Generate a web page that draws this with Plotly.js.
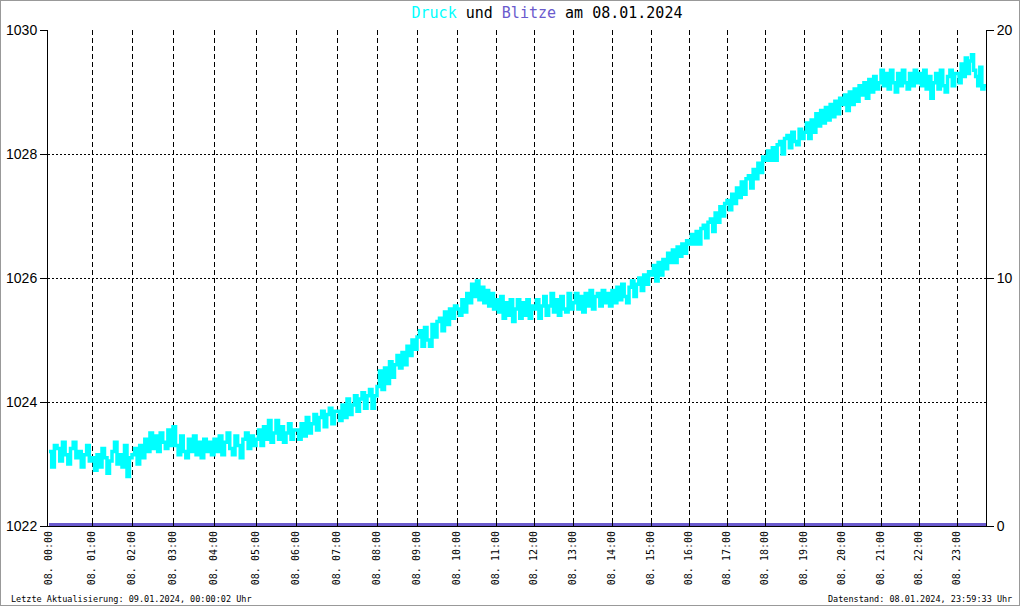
<!DOCTYPE html>
<html><head><meta charset="utf-8">
<script src="https://cdn.plot.ly/plotly-3.0.1.min.js"></script>
<style>
html,body{margin:0;padding:0;background:#fff}
#wrap{position:relative;width:1020px;height:606px}
#chart{width:1020px;height:606px}
#frame{position:absolute;left:0;top:0;width:1020px;height:606px;box-sizing:border-box;border:1px solid #999;pointer-events:none}
</style>
</head><body><div id="wrap"><div id="chart"></div><div id="frame"></div></div>
<script>
// sample index where each hour starts (x axis is sample-indexed)
const hourSamples = [0,43,83,124,165,207,247,288,328,368,408,447,485,524,563,602,640,678,716,755,793,832,870,908];
const totalSamples = 937;
const hourLabels = ['08. 00:00','08. 01:00','08. 02:00','08. 03:00','08. 04:00','08. 05:00','08. 06:00','08. 07:00','08. 08:00','08. 09:00','08. 10:00','08. 11:00','08. 12:00','08. 13:00','08. 14:00','08. 15:00','08. 16:00','08. 17:00','08. 18:00','08. 19:00','08. 20:00','08. 21:00','08. 22:00','08. 23:00'];

// Luftdruck (hPa), readings per hour
const druckByHour = [
 [1023.2,1022.95,1023.3,1023.25,1023.05,1023.35,1023.15,1023.0,1023.25,1023.35,1023.1,1023.2,1022.95,1023.15,1023.3,1023.05],
 [1023.1,1022.9,1023.15,1022.95,1023.25,1023.1,1022.85,1023.05,1023.2,1023.35,1023.0,1023.15,1022.95,1023.3,1022.8,1023.1],
 [1023.15,1023.25,1023.0,1023.3,1023.1,1023.4,1023.2,1023.5,1023.25,1023.45,1023.2,1023.5,1023.35,1023.25,1023.55,1023.3],
 [1023.6,1023.3,1023.15,1023.45,1023.2,1023.1,1023.4,1023.2,1023.45,1023.15,1023.35,1023.1,1023.4,1023.2,1023.35,1023.15],
 [1023.4,1023.2,1023.45,1023.15,1023.35,1023.5,1023.25,1023.15,1023.45,1023.3,1023.1,1023.4,1023.5,1023.25,1023.45,1023.3],
 [1023.4,1023.55,1023.3,1023.6,1023.4,1023.7,1023.35,1023.5,1023.7,1023.4,1023.6,1023.35,1023.5,1023.65,1023.4,1023.55],
 [1023.55,1023.4,1023.65,1023.45,1023.75,1023.5,1023.65,1023.8,1023.55,1023.75,1023.85,1023.6,1023.8,1023.9,1023.65,1023.85],
 [1023.85,1023.7,1023.95,1023.75,1024.05,1023.8,1023.95,1024.1,1023.85,1024.05,1024.15,1023.9,1024.1,1024.2,1023.9,1024.1],
 [1024.25,1024.5,1024.2,1024.55,1024.3,1024.65,1024.4,1024.6,1024.75,1024.55,1024.8,1024.6,1024.9,1024.75,1025.0,1024.85],
 [1025.05,1025.15,1024.9,1025.2,1025.0,1024.9,1025.25,1025.05,1025.3,1025.35,1025.15,1025.45,1025.25,1025.5,1025.35,1025.55],
 [1025.5,1025.4,1025.65,1025.45,1025.75,1025.6,1025.9,1025.7,1025.95,1025.65,1025.85,1025.6,1025.8,1025.55,1025.75,1025.5],
 [1025.65,1025.45,1025.7,1025.35,1025.6,1025.4,1025.65,1025.3,1025.5,1025.65,1025.35,1025.6,1025.4,1025.65,1025.35,1025.55],
 [1025.5,1025.65,1025.35,1025.55,1025.7,1025.4,1025.55,1025.75,1025.45,1025.65,1025.4,1025.7,1025.5,1025.45,1025.75,1025.5],
 [1025.6,1025.75,1025.5,1025.7,1025.45,1025.75,1025.55,1025.8,1025.5,1025.7,1025.75,1025.55,1025.8,1025.6,1025.75,1025.55],
 [1025.8,1025.6,1025.85,1025.65,1025.9,1025.7,1025.6,1025.85,1025.95,1025.7,1025.9,1026.0,1025.8,1026.05,1025.9,1026.1],
 [1026.05,1026.2,1025.95,1026.25,1026.05,1026.3,1026.15,1026.4,1026.25,1026.45,1026.25,1026.5,1026.35,1026.55,1026.4,1026.6],
 [1026.55,1026.7,1026.55,1026.75,1026.55,1026.8,1026.85,1026.65,1026.9,1026.95,1026.75,1027.05,1026.9,1027.15,1027.0,1027.2],
 [1027.25,1027.1,1027.35,1027.2,1027.45,1027.3,1027.55,1027.35,1027.6,1027.65,1027.45,1027.75,1027.6,1027.85,1027.7,1027.95],
 [1027.9,1028.05,1027.9,1028.1,1027.9,1028.15,1028.2,1028.0,1028.25,1028.3,1028.1,1028.35,1028.2,1028.15,1028.4,1028.25],
 [1028.35,1028.5,1028.25,1028.55,1028.35,1028.65,1028.45,1028.7,1028.5,1028.75,1028.55,1028.8,1028.6,1028.85,1028.65,1028.9],
 [1028.8,1028.95,1028.7,1029.0,1028.8,1029.05,1028.85,1029.1,1028.95,1029.15,1028.9,1029.2,1029.0,1029.25,1029.05,1029.15],
 [1029.35,1029.1,1029.3,1029.05,1029.35,1029.15,1029.0,1029.3,1029.1,1029.35,1029.15,1029.05,1029.3,1029.1,1029.35,1029.15],
 [1029.3,1029.1,1029.35,1029.05,1029.25,1028.9,1029.15,1029.3,1029.05,1029.35,1029.1,1029.0,1029.25,1029.35,1029.1,1029.3],
 [1029.3,1029.15,1029.45,1029.25,1029.55,1029.3,1029.5,1029.6,1029.35,1029.25,1029.1,1029.4,1029.05,1029.1]
];
// Blitze (Anzahl), one per hour
const blitze = [0,0,0,0,0,0,0,0,0,0,0,0,0,0,0,0,0,0,0,0,0,0,0,0];

const dx = [], dy = [];
druckByHour.forEach((vals, h) => {
  const start = hourSamples[h];
  const end = h + 1 < hourSamples.length ? hourSamples[h + 1] : totalSamples;
  vals.forEach((v, j) => { dx.push(start + j * (end - start) / vals.length); dy.push(v); });
});
dx.push(totalSamples); dy.push(dy[dy.length - 1]);

const bx = hourSamples.concat([totalSamples]);
const by = blitze.concat([blitze[blitze.length - 1]]);

const traces = [
  {x: dx, y: dy, type: 'scatter', mode: 'lines', line: {color: '#00FFFF', width: 3.5, shape: 'hv'}, name: 'Druck', hoverinfo: 'skip'},
  {x: bx, y: by, type: 'scatter', mode: 'lines', yaxis: 'y2', line: {color: '#6A5ACD', width: 6, shape: 'hv'}, name: 'Blitze', hoverinfo: 'skip'}
];

const layout = {
  width: 1020, height: 606,
  margin: {l: 48, r: 34, t: 30, b: 80, pad: 0},
  paper_bgcolor: '#fff', plot_bgcolor: '#fff',
  showlegend: false,
  font: {family: 'DejaVu Sans Mono', color: '#000'},
  title: {
    text: '<span style="color:#00FFFF">Druck</span> und <span style="color:#6A5ACD">Blitze</span> am 08.01.2024',
    x: 547 / 1020, xref: 'container', xanchor: 'center',
    y: 1 - 13 / 606, yref: 'container', yanchor: 'middle',
    font: {family: 'DejaVu Sans Mono', size: 15, color: '#000'}
  },
  xaxis: {
    range: [-1, totalSamples], tickmode: 'array', tickvals: hourSamples, ticktext: hourLabels,
    tickangle: -90, tickfont: {family: 'DejaVu Sans Mono', size: 10, color: '#000'},
    showgrid: true, gridcolor: '#000', gridwidth: 1, griddash: '5px,3px',
    ticks: 'inside', ticklen: 5, tickcolor: '#000',
    showline: true, linecolor: '#000', linewidth: 1, zeroline: false, fixedrange: true
  },
  yaxis: {
    range: [1022, 1030], tickmode: 'array', tickvals: [1022, 1024, 1026, 1028, 1030],
    showgrid: true, gridcolor: '#000', gridwidth: 1, griddash: '2px,2px',
    ticks: 'outside', ticklen: 7, tickcolor: '#000',
    showline: true, linecolor: '#000', linewidth: 1, zeroline: false,
    tickfont: {family: 'Liberation Sans', size: 14, color: '#000'}, fixedrange: true
  },
  yaxis2: {
    overlaying: 'y', side: 'right', range: [0, 20], tickmode: 'array', tickvals: [0, 10, 20],
    showgrid: false, ticks: 'outside', ticklen: 7, tickcolor: '#000',
    showline: true, linecolor: '#000', linewidth: 1, zeroline: false,
    tickfont: {family: 'Liberation Sans', size: 14, color: '#000'}, fixedrange: true
  },
  annotations: [
    {text: 'Letzte Aktualisierung: 09.01.2024, 00:00:02 Uhr', xref: 'paper', yref: 'paper',
     x: (9 - 48) / 938, y: (526 - 599) / 496, xanchor: 'left', yanchor: 'middle', showarrow: false,
     font: {family: 'DejaVu Sans Mono', size: 8.5, color: '#000'}},
    {text: 'Datenstand: 08.01.2024, 23:59:33 Uhr', xref: 'paper', yref: 'paper',
     x: (1014 - 48) / 938, y: (526 - 599) / 496, xanchor: 'right', yanchor: 'middle', showarrow: false,
     font: {family: 'DejaVu Sans Mono', size: 8.5, color: '#000'}}
  ]
};

Plotly.newPlot('chart', traces, layout, {staticPlot: true, displayModeBar: false});
</script></body></html>
